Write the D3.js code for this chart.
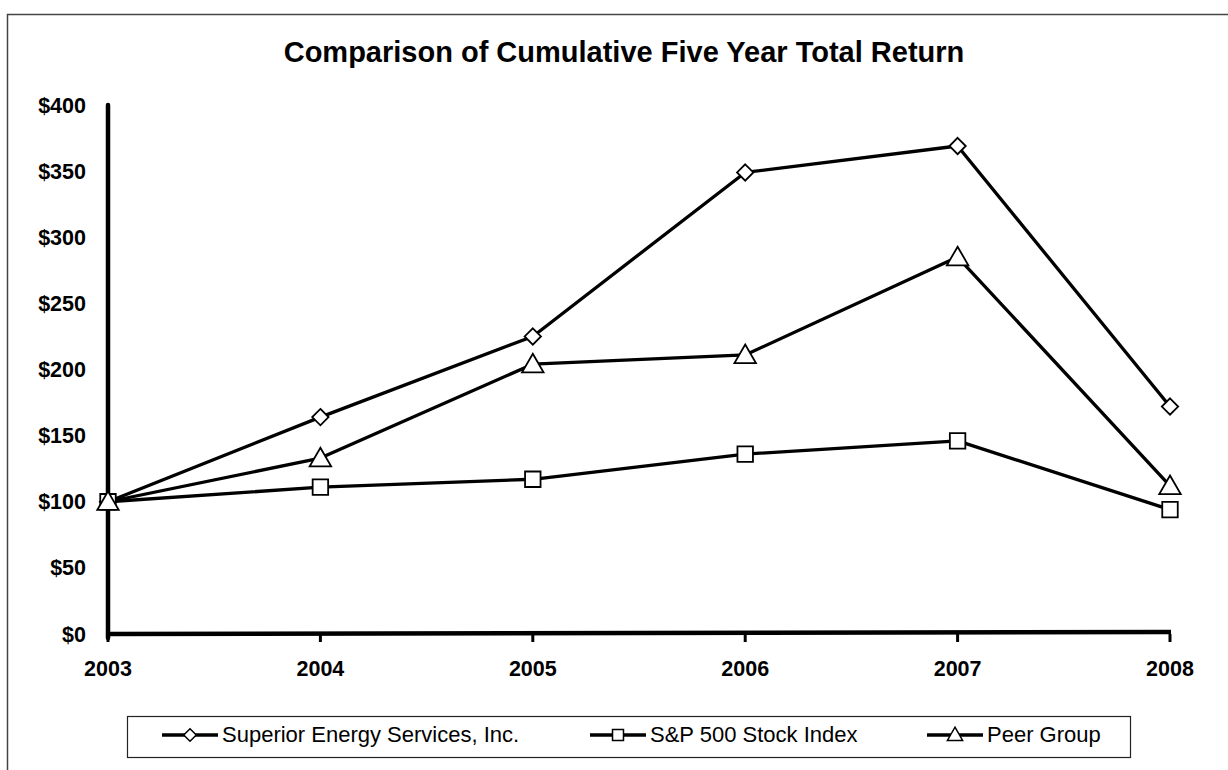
<!DOCTYPE html>
<html><head><meta charset="utf-8">
<script src="https://cdn.jsdelivr.net/npm/d3@7"></script>
<style>body{margin:0;background:#fff}svg{display:block}</style>
</head><body><svg id="c" width="1228" height="770"></svg>
<script>
const years = ["2003","2004","2005","2006","2007","2008"];
const superior = [100, 164, 225, 349, 369, 172];
const sp500 = [100, 111, 117, 136, 146, 94];
const peer = [100, 133, 204, 211, 285, 112];
const yTicks = [0, 50, 100, 150, 200, 250, 300, 350, 400];
const seriesNames = ["Superior Energy Services, Inc.", "S&P 500 Stock Index", "Peer Group"];
const title = "Comparison of Cumulative Five Year Total Return";

const svg = d3.select("#c");
const F = "'Liberation Sans', Arial, sans-serif";
// outer frame (right and bottom edges fall outside the picture)
svg.append("rect").attr("x",7.5).attr("y",14.5).attr("width",1240).attr("height",770)
  .attr("fill","none").attr("stroke","#444").attr("stroke-width",1.5);

svg.append("text").attr("x",624).attr("y",62).attr("text-anchor","middle")
  .attr("font-family",F).attr("font-weight","bold").attr("font-size",29).text(title);

const x = d3.scalePoint().domain(years).range([108,1170]);
const y = d3.scaleLinear().domain([0,400]).range([634,105]);

// y labels
svg.append("g").selectAll("text").data(yTicks).join("text")
  .attr("x",86).attr("y",d=>y(d)+7.5).attr("text-anchor","end")
  .attr("font-family",F).attr("font-weight","bold").attr("font-size",21.5)
  .text(d=>"$"+d);
// x labels
svg.append("g").selectAll("text").data(years).join("text")
  .attr("x",d=>x(d)).attr("y",676).attr("text-anchor","middle")
  .attr("font-family",F).attr("font-weight","bold").attr("font-size",21.5)
  .text(d=>d);
// x ticks
svg.append("g").selectAll("line").data(years).join("line")
  .attr("x1",d=>x(d)).attr("x2",d=>x(d)).attr("y1",y(0)).attr("y2",y(0)+8)
  .attr("stroke","#000").attr("stroke-width",3);
// axes
svg.append("line").attr("x1",108).attr("x2",108).attr("y1",y(400)).attr("y2",y(0)+4)
  .attr("stroke","#000").attr("stroke-width",4.5).attr("stroke-linecap","round");
svg.append("line").attr("x1",106).attr("x2",1171).attr("y1",y(0)).attr("y2",y(0)-2)
  .attr("stroke","#000").attr("stroke-width",4.5);

const types = {diamond:d3.symbolDiamond2, square:d3.symbolSquare, triangle:d3.symbolTriangle};
const sizes = {diamond:170, square:240, triangle:200};
const series = [
  {name:seriesNames[0], vals:superior, s:"diamond"},
  {name:seriesNames[1], vals:sp500, s:"square"},
  {name:seriesNames[2], vals:peer, s:"triangle"}
];
const line = d3.line().x((d,i)=>x(years[i])).y(d=>y(d));
series.forEach(s=>{
  svg.append("path").attr("d",line(s.vals)).attr("fill","none")
    .attr("stroke","#000").attr("stroke-width",3.3).attr("stroke-linejoin","round");
});
series.forEach(s=>{
  svg.append("g").selectAll("path").data(s.vals).join("path")
    .attr("d",d3.symbol().type(types[s.s]).size(sizes[s.s]))
    .attr("transform",(d,i)=>`translate(${x(years[i])},${y(d)+(s.s==="triangle"?2:0)})`)
    .attr("fill","#fff").attr("stroke","#000").attr("stroke-width",1.8);
});

// legend
svg.append("rect").attr("x",127.5).attr("y",716.5).attr("width",1003).attr("height",41)
  .attr("fill","none").attr("stroke","#222").attr("stroke-width",1.2);
const lx = [162, 590, 927];
series.forEach((s,i)=>{
  const g = svg.append("g").attr("transform",`translate(${lx[i]},735)`);
  g.append("line").attr("x1",0).attr("x2",56).attr("y1",0).attr("y2",0).attr("stroke","#000").attr("stroke-width",3.3);
  g.append("path").attr("d",d3.symbol().type(types[s.s]).size(s.s==="square"?120:100))
    .attr("transform",`translate(28,${s.s==="triangle"?1:0})`).attr("fill","#fff").attr("stroke","#000").attr("stroke-width",1.5);
  g.append("text").attr("x",60).attr("y",7).attr("font-family",F).attr("font-size",22).text(s.name);
});
</script></body></html>
